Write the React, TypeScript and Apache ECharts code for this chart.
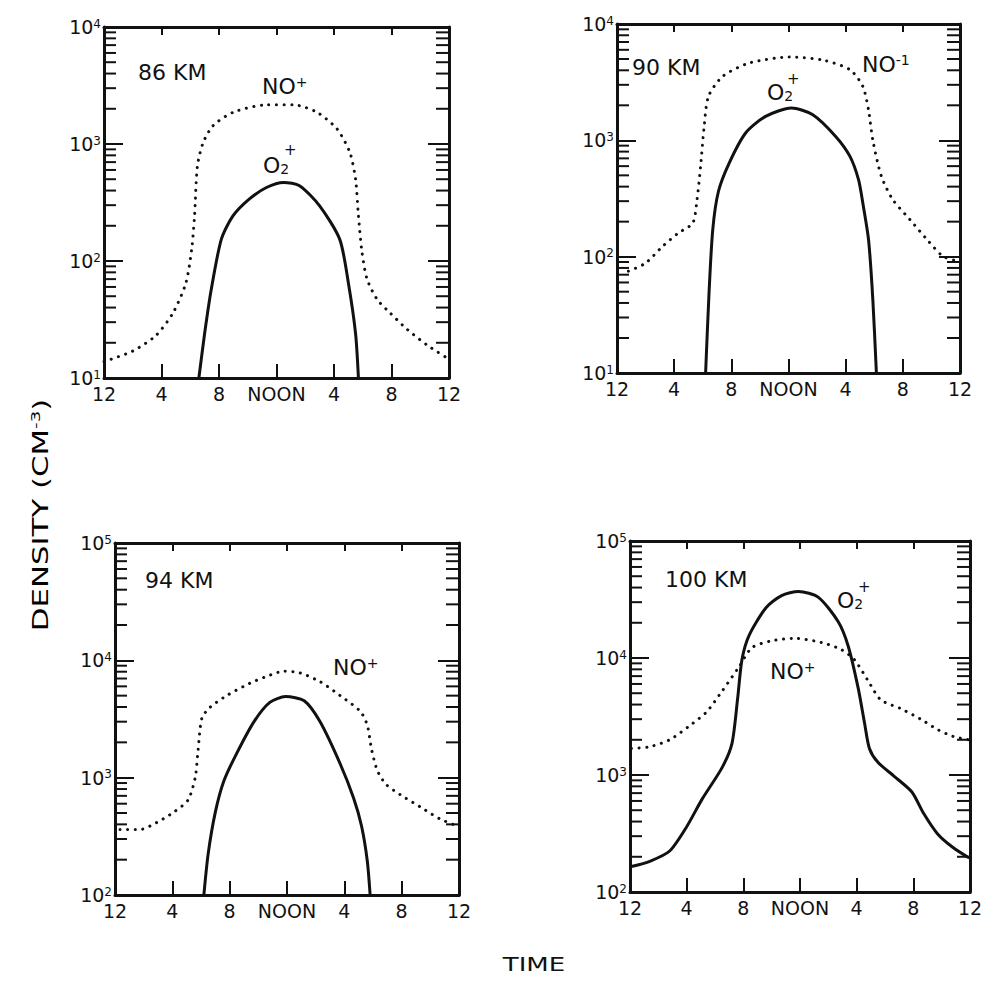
import React, { useEffect, useRef } from "react";
import * as echarts from "echarts";

// ---- axis ticks ----
const hourTicks = [0, 4, 8, 12, 16, 20, 24];
const hourLabels = ["12", "4", "8", "NOON", "4", "8", "12"];

// ---- data: [hour, density] ----
const km86NO = [[0, 13.8], [2, 17], [3.6, 23], [4.8, 36], [5.7, 65], [6.1, 126], [6.3, 243], [6.5, 650], [6.9, 1030], [7.6, 1440], [9, 1870], [11.3, 2160], [13.2, 2160], [14.8, 1870], [16.2, 1350], [17.1, 850], [17.5, 500], [17.7, 243], [17.95, 118], [18.3, 70], [19, 47], [19.9, 36], [21.1, 26], [22.5, 19], [24, 14.5]];
const km86O2 = [[6.6, 10], [7.0, 24], [7.46, 57], [8.16, 153], [8.97, 243], [10.1, 338], [11.3, 425], [12.5, 469], [13.6, 440], [15.0, 296], [16.4, 153], [17.0, 65], [17.5, 24], [17.7, 10]];

const km90NO = [[0.8, 75], [2, 88], [3.2, 123], [4.3, 160], [5.3, 194], [5.6, 309], [5.85, 598], [6.1, 1318], [6.4, 2390], [7.4, 3550], [9.25, 4620], [12.06, 5200], [14.4, 4900], [16.3, 4050], [17.2, 2910], [17.6, 1820], [17.9, 1000], [18.5, 490], [19.3, 309], [20.5, 208], [21.7, 140], [22.8, 101], [23.9, 91]];
const km90O2 = [[6.2, 10], [6.44, 49], [6.7, 171], [7.1, 365], [7.85, 638], [9.0, 1156], [10.4, 1607], [12.2, 1897], [13.7, 1660], [15.3, 1081], [16.3, 728], [16.9, 459], [17.2, 289], [17.6, 140], [17.9, 43], [18.15, 10]];

const km94NO = [[0.35, 361], [1.75, 361], [2.9, 414], [4.1, 508], [5.1, 646], [5.6, 1007], [5.8, 1738], [6.06, 3213], [6.6, 3945], [7.8, 5010], [9.4, 6370], [10.6, 7310], [11.8, 8090], [12.9, 7820], [14.3, 6590], [15.7, 5010], [17.1, 3690], [17.6, 2810], [17.9, 1738], [18.3, 1153], [18.9, 879], [19.9, 716], [21.3, 563], [22.7, 443], [23.9, 387]];
const km94O2 = [[6.2, 100], [6.5, 224], [7.0, 508], [7.6, 940], [8.5, 1620], [9.7, 3005], [10.8, 4380], [11.9, 4910], [13.2, 4520], [14.3, 3005], [15.7, 1320], [16.65, 668], [17.2, 387], [17.6, 196], [17.8, 100]];

const km100NO = [[0.1, 1686], [1.4, 1743], [2.8, 2000], [4.2, 2630], [5.4, 3454], [6.5, 5210], [7.7, 8410], [8.6, 12250], [10.0, 14040], [11.65, 14720], [13.5, 13580], [14.9, 11830], [15.85, 9640], [16.8, 6400], [17.7, 4390], [19.1, 3700], [20.5, 3010], [21.7, 2450], [22.8, 2140], [23.9, 2000]];
const km100O2 = [[0.1, 165], [1.4, 183], [2.8, 224], [4.0, 361], [5.1, 625], [6.5, 1157], [7.2, 1866], [7.6, 4540], [7.9, 9640], [8.4, 15550], [9.6, 26900], [10.7, 34150], [11.9, 37060], [13.3, 33000], [14.7, 20400], [15.4, 12670], [16.1, 5580], [16.55, 2810], [16.9, 1686], [17.5, 1283], [18.65, 975], [19.9, 716], [20.7, 475], [21.7, 315], [22.8, 240], [23.95, 195]];

const yRanges = [[10, 1e4], [10, 1e4], [100, 1e5], [100, 1e5]];
const noSeries = [km86NO, km90NO, km94NO, km100NO];
const o2Series = [km86O2, km90O2, km94O2, km100O2];

// ---- layout ----
const grids = [
  { left: 104, top: 27, width: 345, height: 351 },
  { left: 617, top: 24, width: 343, height: 349 },
  { left: 115, top: 543, width: 344, height: 352 },
  { left: 630, top: 541, width: 340, height: 351 },
];

const FONT = "DejaVu Sans";
const INK = "#111";

function minorValues(lo: number, hi: number) {
  const out: number[][] = [];
  for (let d = lo; d < hi; d *= 10) {
    for (let k = 2; k <= 9; k++) out.push([12, k * d]);
  }
  return out;
}

const supRich = {
  b: { fontSize: 19, fontFamily: FONT, color: INK },
  s: { fontSize: 12, fontFamily: FONT, color: INK, verticalAlign: "top" },
};

function tickSeries(i: number, lo: number, hi: number) {
  return {
    type: "custom", xAxisIndex: 2 * i, yAxisIndex: 2 * i, clip: false, z: 10, silent: true,
    data: minorValues(lo, hi),
    renderItem: (params: any, api: any) => {
      const cs = params.coordSys;
      const y = api.coord([api.value(0), api.value(1)])[1];
      return {
        type: "group",
        children: [
          { type: "line", shape: { x1: cs.x, y1: y, x2: cs.x + 12, y2: y }, style: { stroke: INK, lineWidth: 2 } },
          { type: "line", shape: { x1: cs.x + cs.width - 13, y1: y, x2: cs.x + cs.width, y2: y }, style: { stroke: INK, lineWidth: 2 } },
        ],
      };
    },
  };
}

function buildOption() {
  const xAxis: any[] = [];
  const yAxis: any[] = [];
  const series: any[] = [];
  grids.forEach((g, i) => {
    const [lo, hi] = yRanges[i];
    xAxis.push({
      type: "value", gridIndex: i, position: "bottom", min: 0, max: 24, interval: 4,
      axisLine: { show: true, onZero: false, lineStyle: { color: INK, width: 3 } },
      axisTick: { show: true, inside: true, length: 14, lineStyle: { color: INK, width: 2 } },
      splitLine: { show: false },
      axisLabel: {
        show: true, margin: 6, color: INK, fontSize: 19, fontFamily: FONT,
        formatter: (v: number) => { const k = hourTicks.indexOf(v); return k >= 0 ? hourLabels[k] : ""; },
      },
    });
    xAxis.push({
      type: "value", gridIndex: i, position: "top", min: 0, max: 24, interval: 4,
      axisLine: { show: true, onZero: false, lineStyle: { color: INK, width: 3 } },
      axisTick: { show: true, inside: true, length: 8, lineStyle: { color: INK, width: 2 } },
      splitLine: { show: false }, axisLabel: { show: false },
    });
    yAxis.push({
      type: "log", gridIndex: i, position: "left", min: lo, max: hi, interval: 1,
      axisLine: { show: true, onZero: false, lineStyle: { color: INK, width: 3 } },
      axisTick: { show: true, inside: true, length: 19, lineStyle: { color: INK, width: 2 } },
      splitLine: { show: false },
      axisLabel: {
        show: true, margin: 3, color: INK, fontSize: 19, fontFamily: FONT,
        formatter: (v: number) => `{b|10}{s|${Math.round(Math.log10(v))}}`,
        rich: supRich,
      },
    });
    yAxis.push({
      type: "log", gridIndex: i, position: "right", min: lo, max: hi, interval: 1,
      axisLine: { show: true, onZero: false, lineStyle: { color: INK, width: 3 } },
      axisTick: { show: true, inside: true, length: 21, lineStyle: { color: INK, width: 2 } },
      splitLine: { show: false }, axisLabel: { show: false },
    });
    series.push(tickSeries(i, lo, hi));
    series.push({
      type: "line", name: "NO+", xAxisIndex: 2 * i, yAxisIndex: 2 * i, data: noSeries[i],
      showSymbol: false, smooth: 0.25, silent: true,
      lineStyle: { color: INK, width: 3, type: [0.1, 7.5], cap: "round" },
    });
    series.push({
      type: "line", name: "O2+", xAxisIndex: 2 * i, yAxisIndex: 2 * i, data: o2Series[i],
      showSymbol: false, smooth: 0.25, silent: true,
      lineStyle: { color: INK, width: 3 },
    });
  });

  const t = (x: number, y: number, text: string, size = 22, extra: any = {}) => ({
    type: "text", x, y, silent: true,
    style: { text, fontSize: size, fontFamily: FONT, fill: INK, align: "left", verticalAlign: "middle", ...extra },
  });
  const richLab = {
    b: { fontSize: 22, fontFamily: FONT, color: INK },
    s: { fontSize: 14, fontFamily: FONT, color: INK, verticalAlign: "top" },
    sub: { fontSize: 14, fontFamily: FONT, color: INK, verticalAlign: "bottom" },
  };
  const graphic: any[] = [
    t(138, 72, "86 KM"),
    t(262, 86, "{b|NO}{s|+}", 22, { rich: richLab }),
    t(263, 165, "{b|O}{sub|2}", 22, { rich: richLab }),
    t(284, 150, "+", 15),
    t(632, 67, "90 KM"),
    t(862, 64, "{b|NO}{s|-1}", 22, { rich: richLab }),
    t(767, 92, "{b|O}{sub|2}", 22, { rich: richLab }),
    t(787, 79, "+", 15),
    t(145, 580, "94 KM"),
    t(333, 667, "{b|NO}{s|+}", 22, { rich: richLab }),
    t(665, 579, "100 KM"),
    t(837, 600, "{b|O}{sub|2}", 22, { rich: richLab }),
    t(858, 587, "+", 15),
    t(770, 671, "{b|NO}{s|+}", 22, { rich: richLab }),
    {
      type: "text", x: 40, y: 515, rotation: Math.PI / 2, scaleX: 1.4, silent: true,
      style: {
        text: "{b|DENSITY (CM}{s|-3}{b|)}", align: "center", verticalAlign: "middle",
        rich: {
          b: { fontSize: 22, fontFamily: FONT, color: INK },
          s: { fontSize: 13, fontFamily: FONT, color: INK, verticalAlign: "top" },
        },
      },
    },
    {
      type: "text", x: 534, y: 964, scaleX: 1.3, silent: true,
      style: { text: "TIME", fontSize: 20, fontFamily: FONT, fill: INK, align: "center", verticalAlign: "middle" },
    },
  ];

  return {
    animation: false,
    backgroundColor: "#fff",
    grid: grids.map((g) => ({ ...g })),
    xAxis, yAxis, series, graphic,
  };
}

export default function App() {
  const ref = useRef<HTMLDivElement>(null);
  useEffect(() => {
    if (!ref.current) return;
    const chart = echarts.init(ref.current, undefined, { renderer: "svg" });
    chart.setOption(buildOption() as any);
    return () => chart.dispose();
  }, []);
  return <div ref={ref} style={{ position: "absolute", left: 0, top: 0, width: 993, height: 981, background: "#fff" }} />;
}
